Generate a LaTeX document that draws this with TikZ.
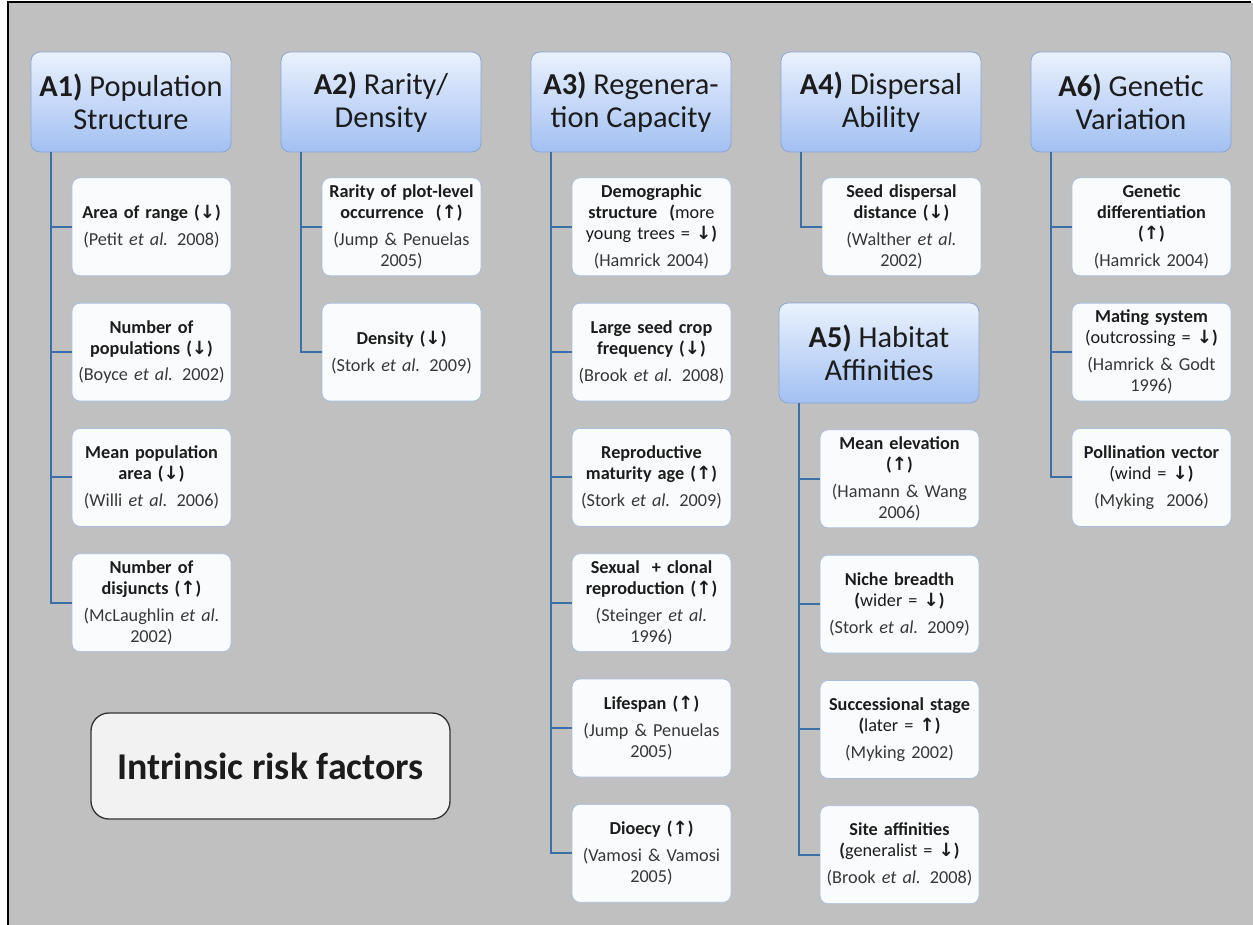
\documentclass[tikz,border=0pt]{standalone}
\usepackage{fontspec}
\setmainfont{Carlito}
\newfontfamily\arrowfont{DejaVu Sans}[Scale=1.0]
\usetikzlibrary{chains,positioning}

\definecolor{canvas}{HTML}{C0C0C0}
\definecolor{headtop}{HTML}{EAF1FD}
\definecolor{headbot}{HTML}{A2C0F2}
\definecolor{headline}{HTML}{8AA6D6}
\definecolor{itemfill}{HTML}{FAFBFD}
\definecolor{itemline}{HTML}{A9BEDD}
\definecolor{trunkblue}{HTML}{3C6EA8}
\definecolor{ink}{HTML}{1C1C1C}
\definecolor{citeink}{HTML}{383838}

\newcommand{\arrdown}{{\arrowfont\bfseries ↓}}
\newcommand{\arrup}{{\arrowfont\bfseries ↑}}
\newcommand{\src}[1]{{\color{citeink}#1}}

\begin{document}
\begin{tikzpicture}[
  x=1bp, y=-1bp,
  node distance=26.5bp,
  head/.style={rounded corners=9bp, draw=headline, line width=0.8bp,
    top color=headtop, bottom color=headbot,
    minimum width=200bp, minimum height=100bp, align=center,
    font=\fontsize{30.5}{33}\selectfont, text=ink},
  item/.style={rounded corners=8bp, draw=itemline, fill=itemfill, line width=0.8bp,
    minimum width=159bp, minimum height=98bp, text width=157bp, inner sep=0pt,
    align=center, font=\fontsize{18.3}{21}\selectfont, text=ink},
  trunk/.style={draw=trunkblue, line width=2bp},
  title/.style={rounded corners=18bp, draw=black!80, line width=1.3bp, fill=black!5,
    minimum width=359bp, minimum height=106bp,
    font=\fontsize{38}{44}\selectfont\bfseries, text=ink}
]
  \useasboundingbox (0,0) rectangle (1253,925);
  \fill[canvas] (9,3) rectangle (1253,925);
  \draw[line width=2.5bp] (8,925) |- (1251,2);

  % column headers
  \node[head] (a1) at (131,102) {\textbf{A1)} Population\\Structure};
  \node[head] (a2) at (381,102) {\textbf{A2)} Rarity/\\Density};
  \node[head] (a3) at (631,102) {\textbf{A3)} Regenera-\\tion Capacity};
  \node[head] (a4) at (881,102) {\textbf{A4)} Dispersal\\Ability};
  \node[head] (a5) at (879,353) {\textbf{A5)} Habitat\\Affinities};
  \node[head] (a6) at (1131,102) {\textbf{A6)} Genetic\\Variation};

  \begin{scope}[start chain=colA1 going below]
    \node[item, on chain, below right=25bp and 41bp of a1.south west] (a1c1)
      {\textbf{Area of range (\arrdown)}\\[6bp]\src{(Petit \emph{et al.} 2008)}};
    \node[item, on chain] (a1c2)
      {\textbf{Number of\\populations (\arrdown)}\\[6bp]\src{(Boyce \emph{et al.} 2002)}};
    \node[item, on chain] (a1c3)
      {\textbf{Mean population\\area (\arrdown)}\\[6bp]\src{(Willi \emph{et al.} 2006)}};
    \node[item, on chain] (a1c4)
      {\textbf{Number of\\disjuncts (\arrup)}\\[6bp]\src{(McLaughlin \emph{et al.}\\2002)}};
  \end{scope}

  \begin{scope}[start chain=colA2 going below]
    \node[item, on chain, below right=25bp and 41bp of a2.south west] (a2c1)
      {\textbf{Rarity of plot-level\\occurrence~~(\arrup)}\\[6bp]\src{(Jump \& Penuelas\\2005)}};
    \node[item, on chain] (a2c2)
      {\textbf{Density (\arrdown)}\\[6bp]\src{(Stork \emph{et al.} 2009)}};
  \end{scope}

  \begin{scope}[start chain=colA3 going below]
    \node[item, on chain, below right=25bp and 41bp of a3.south west] (a3c1)
      {\textbf{Demographic\\structure~~(}more\\young trees = \textbf{\arrdown)}\\[6bp]\src{(Hamrick 2004)}};
    \node[item, on chain] (a3c2)
      {\textbf{Large seed crop\\frequency (\arrdown)}\\[6bp]\src{(Brook \emph{et al.} 2008)}};
    \node[item, on chain] (a3c3)
      {\textbf{Reproductive\\maturity age (\arrup)}\\[6bp]\src{(Stork \emph{et al.} 2009)}};
    \node[item, on chain] (a3c4)
      {\textbf{Sexual~~+ clonal\\reproduction (\arrup)}\\[6bp]\src{(Steinger \emph{et al.}\\1996)}};
    \node[item, on chain] (a3c5)
      {\textbf{Lifespan (\arrup)}\\[6bp]\src{(Jump \& Penuelas\\2005)}};
    \node[item, on chain] (a3c6)
      {\textbf{Dioecy (\arrup)}\\[6bp]\src{(Vamosi \& Vamosi\\2005)}};
  \end{scope}

  \begin{scope}[start chain=colA4 going below]
    \node[item, on chain, below right=25bp and 41bp of a4.south west] (a4c1)
      {\textbf{Seed dispersal\\distance (\arrdown)}\\[6bp]\src{(Walther \emph{et al.}\\2002)}};
  \end{scope}

  \begin{scope}[start chain=colA5 going below]
    \node[item, on chain, below right=26bp and 41bp of a5.south west] (a5c1)
      {\textbf{Mean elevation\\(\arrup)}\\[6bp]\src{(Hamann \& Wang\\2006)}};
    \node[item, on chain] (a5c2)
      {\textbf{Niche breadth\\(}wider = \textbf{\arrdown)}\\[6bp]\src{(Stork \emph{et al.} 2009)}};
    \node[item, on chain] (a5c3)
      {\textbf{Successional stage\\(}later = \textbf{\arrup)}\\[6bp]\src{(Myking 2002)}};
    \node[item, on chain] (a5c4)
      {\textbf{Site affinities\\(}generalist = \textbf{\arrdown)}\\[6bp]\src{(Brook \emph{et al.} 2008)}};
  \end{scope}

  \begin{scope}[start chain=colA6 going below]
    \node[item, on chain, below right=25bp and 41bp of a6.south west] (a6c1)
      {\textbf{Genetic\\differentiation\\(\arrup)}\\[6bp]\src{(Hamrick 2004)}};
    \node[item, on chain] (a6c2)
      {\textbf{Mating system}\\(outcrossing = \textbf{\arrdown)}\\[6bp]\src{(Hamrick \& Godt\\1996)}};
    \node[item, on chain] (a6c3)
      {\textbf{Pollination vector}\\(wind = \textbf{\arrdown)}\\[6bp]\src{(Myking~~2006)}};
  \end{scope}

  % trunks and branches
  \foreach \h/\n in {a1/4, a2/2, a3/6, a4/1, a5/4, a6/3}
    \foreach \k in {1,...,\n}
      \draw[trunk] ([xshift=20bp]\h.south west) |- (\h c\k.west);

  \node[title] (risk) at (270.5,766) {Intrinsic risk factors};
\end{tikzpicture}
\end{document}
